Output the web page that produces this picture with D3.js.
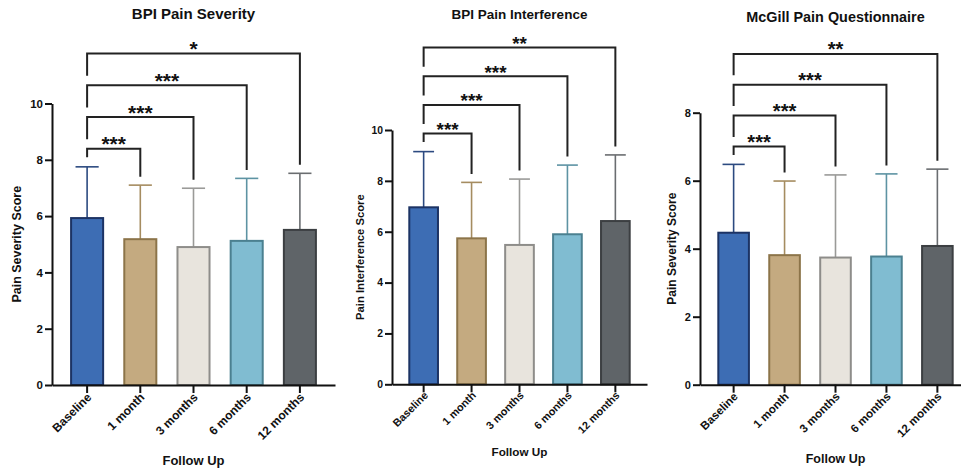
<!DOCTYPE html>
<html>
<head>
<meta charset="utf-8">
<style>
  body { margin: 0; background: #fff; }
  svg { display: block; font-family: "Liberation Sans", Arial, sans-serif; }
  .domain, .tick line { stroke: #111; stroke-width: 2; }
  .bracket { fill: none; stroke: #222; stroke-width: 2; }
</style>
</head>
<body>
<script src="https://d3js.org/d3.v7.min.js"></script>
<script>
// follow-up timepoints
const timepoints = ["Baseline", "1 month", "3 months", "6 months", "12 months"];

// mean scores and mean + SD (top of error bar) per panel
const severityMean = [5.93, 5.18, 4.90, 5.12, 5.51];
const severityTop  = [7.75, 7.10, 6.99, 7.34, 7.52];
const interferenceMean = [6.96, 5.74, 5.48, 5.90, 6.42];
const interferenceTop  = [9.15, 7.94, 8.07, 8.62, 9.02];
const mcgillMean = [4.47, 3.81, 3.74, 3.77, 4.08];
const mcgillTop  = [6.48, 5.99, 6.17, 6.20, 6.34];

// significance of each follow up vs baseline
const severityStars = ["***", "***", "***", "*"];
const interferenceStars = ["***", "***", "***", "**"];
const mcgillStars = ["***", "***", "***", "**"];

const severityTicks = [0, 2, 4, 6, 8, 10];
const interferenceTicks = [0, 2, 4, 6, 8, 10];
const mcgillTicks = [0, 2, 4, 6, 8];

const fills   = ["#3d6db4", "#c4aa80", "#e8e4dd", "#80bcd1", "#5f6468"];
const strokes = ["#1c3364", "#8c7449", "#8e8d8a", "#4b8090", "#3c3f42"];
const errCols = ["#2c4a80", "#a58c60", "#9a9a98", "#5d93a3", "#6a6d70"];

const W = 961, H = 470;
const svg = d3.select("body").append("svg").attr("width", W).attr("height", H);

const panels = [
  { title: "BPI Pain Severity", ylab: "Pain Severity Score", mean: severityMean, top: severityTop,
    stars: severityStars, ticks: severityTicks,
    x0: 52, x1: 335, yTop: 103.5, y0: 385, fs: 1, titleY: 19, ylabX: 21, xlabY: 465, gap: 31.8 },
  { title: "BPI Pain Interference", ylab: "Pain Interference Score", mean: interferenceMean, top: interferenceTop,
    stars: interferenceStars, ticks: interferenceTicks,
    x0: 392, x1: 647, yTop: 130, y0: 384.3, fs: 0.9, titleY: 19, ylabX: 364, xlabY: 456, gap: 28.7 },
  { title: "McGill Pain Questionnaire", ylab: "Pain Severity Score", mean: mcgillMean, top: mcgillTop,
    stars: mcgillStars, ticks: mcgillTicks,
    x0: 700, x1: 971, yTop: 112.7, y0: 384.7, fs: 0.96, titleY: 21.5, ylabX: 676, xlabY: 463, gap: 30.8 }
];

panels.forEach(p => {
  const g = svg.append("g");
  const yMax = d3.max(p.ticks);
  const y = d3.scaleLinear().domain([0, yMax]).range([p.y0, p.yTop]);
  const x = d3.scaleBand().domain(timepoints).range([p.x0, p.x1])
    .paddingInner(0.36).paddingOuter(0.34);
  const cx = d => x(d) + x.bandwidth() / 2;
  const capW = x.bandwidth() * 0.34;

  // error bars (upper only), drawn under the bars
  timepoints.forEach((t, i) => {
    g.append("line")
      .attr("x1", cx(t)).attr("x2", cx(t))
      .attr("y1", y(p.mean[i])).attr("y2", y(p.top[i]))
      .attr("stroke", errCols[i]).attr("stroke-width", 1.6);
    g.append("line")
      .attr("x1", cx(t) - capW).attr("x2", cx(t) + capW)
      .attr("y1", y(p.top[i])).attr("y2", y(p.top[i]))
      .attr("stroke", errCols[i]).attr("stroke-width", 1.6);
  });

  g.selectAll("rect.bar").data(timepoints).join("rect")
    .attr("class", "bar")
    .attr("x", d => x(d) + 1)
    .attr("width", x.bandwidth() - 2)
    .attr("y", (d, i) => y(p.mean[i]))
    .attr("height", (d, i) => p.y0 - y(p.mean[i]))
    .attr("fill", (d, i) => fills[i])
    .attr("stroke", (d, i) => strokes[i])
    .attr("stroke-width", 2);

  // axes
  const yAxis = g.append("g").attr("transform", `translate(${p.x0},0)`)
    .call(d3.axisLeft(y).tickValues(p.ticks).tickSize(7).tickSizeOuter(0).tickPadding(2));
  yAxis.selectAll("text").attr("font-size", 11.5 * p.fs).attr("font-weight", "bold").attr("fill", "#111");

  const xAxis = g.append("g").attr("transform", `translate(0,${p.y0})`)
    .call(d3.axisBottom(x).tickSize(8).tickSizeOuter(0));
  xAxis.selectAll("text")
    .attr("font-size", 12 * p.fs).attr("font-weight", "bold").attr("fill", "#111")
    .attr("text-anchor", "end")
    .attr("dy", 0)
    .attr("transform", `translate(5,${13 * p.fs}) rotate(-45)`)
    .attr("y", 0);

  // significance brackets from baseline
  const b0 = y(p.top[0]) - 18;
  let below = y(p.top[0]);
  p.stars.forEach((s, k) => {
    const t = timepoints[k + 1];
    const by = b0 - k * p.gap;
    const xl = cx(timepoints[0]), xr = cx(t);
    g.append("path").attr("class", "bracket")
      .attr("d", `M${xl},${below - 9.5}V${by}H${xr}V${y(p.top[k + 1]) - 8.5}`);
    g.append("text")
      .attr("x", (xl + xr) / 2).attr("y", by + 2.5)
      .attr("text-anchor", "middle")
      .attr("font-size", 21 * p.fs).attr("font-weight", "bold").attr("fill", "#111")
      .text(s);
    below = by;
  });

  // titles
  g.append("text").attr("x", (p.x0 + cx(timepoints[4]) + cx(timepoints[0]) - p.x0) / 2)
    .attr("y", p.titleY).attr("text-anchor", "middle")
    .attr("font-size", 15 * p.fs).attr("font-weight", "bold").attr("fill", "#111")
    .text(p.title);
  g.append("text").attr("x", (cx(timepoints[0]) + cx(timepoints[4])) / 2)
    .attr("y", p.xlabY).attr("text-anchor", "middle")
    .attr("font-size", 13 * p.fs).attr("font-weight", "bold").attr("fill", "#111")
    .text("Follow Up");
  g.append("text")
    .attr("transform", `translate(${p.ylabX},${(p.y0 + p.yTop) / 2}) rotate(-90)`)
    .attr("text-anchor", "middle")
    .attr("font-size", 12.5 * p.fs).attr("font-weight", "bold").attr("fill", "#111")
    .text(p.ylab);
});
</script>
</body>
</html>
